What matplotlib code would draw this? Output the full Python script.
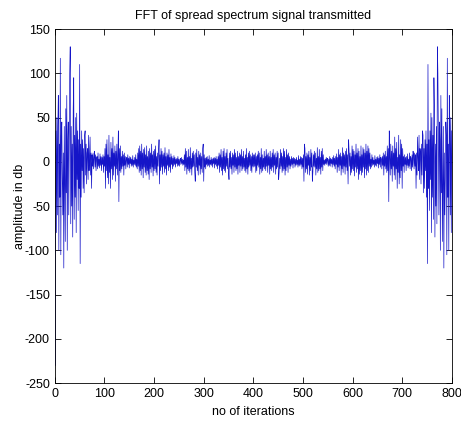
import numpy as np
from matplotlib import pyplot as plt

half = [
    -230, 35, -80, 50, -60, 40, 75, -100, 20, -40, 117, -105, 30, 45, -20, -60, 10, -120, 40, -30,
    -90, 60, -35, 75, -100, 25, 45, -60, 30, 100, 130, -70, 40, -50, 20, -85, 60, 95, -65, 30,
    -40, 50, -80, 55, -20, 35, -55, 25, -30, 110, -115, 20, -40, 35, -10, 25, -30, 15, -35, 30,
    35, -15, 20, -25, 10, 15, -20, 30, -10, 5, 28, -15, 10, -30, 8, -5, 10, -8, 5, 12,
    -6, 8, -10, 4, 6, -8, 10, -5, 3, -7, 9, -4, 6, -10, 5, -3, 8, -12, 6, -5,
    15, -30, 20, -10, 25, -18, 8, -25, 30, -12, 5, -30, 22, -8, 15, -20, 28, -15, 10, -5,
    18, -22, 12, -8, 20, -15, 5, 35, -45, 15, -10, 18, -12, 6, -8, 12, -5, 8, -15, 10,
    -4, 6, -8, 3, 5, -6, 8, -3, 4, -7, 6, -2, 5, -5, 3, -4, 7, -6, 2, -3,
    5, -4, 8, -6, 3, -8, 10, -5, 15, -12, 18, -10, 12, -15, 20, -8, 10, -18, 14, -6,
    16, -12, 8, -15, 18, -10, 6, -14, 12, -20, 15, -8, 10, -12, 20, -6, 8, -16, 12, -10,
    14, -8, 18, -12, 6, -15, 10, -5, 12, 25, -25, 8, -10, 15, -6, 12, -14, 8, -5, 10,
    -12, 16, -8, 6, -15, 10, -4, 8, -10, 14, -6, 5, -12, 9, -3, 6, -8, 4, -5, 7,
    -3, 5, -6, 3, -2, 4, -5, 6, -4, 3, -5, 2, 4, -3, 5, -2, 3, -4, 2, -3,
    8, -10, 15, -6, 12, -14, 5, -8, 14, -10, 6, -12, 16, -8, 4, -15, 10, -6, 12, -5,
    8, -12, -22, 10, -6, 14, -10, 5, -15, 12, -4, 8, -14, 10, -8, 6, -12, 15, 20, -22,
    8, -6, 4, -8, 5, -3, 6, -5, 3, -4, 7, -6, 2, -3, 5, -4, 3, -6, 4, -2,
    5, -7, 4, -3, 6, -5, 3, -8, 6, -4, 10, -12, 8, -6, 14, -10, 5, -15, 12, -8,
    15, -10, 6, -12, 10, -5, 14, -8, 4, -12, -20, 10, -6, 12, -8, 5, -14, 10, -4, 8,
    -12, 14, -6, 10, -10, 5, -8, 12, -14, 6, -4, 10, -12, 8, -5, 14, -10, 6, -8, 12,
    -6, 4, -10, 8, -12, 15, -8, 5, -14, 10, -6, 12, -4, 8, -10, 6, -12, 10, -5, 8,
    -6,
]
xticks = [0, 100, 200, 300, 400, 500, 600, 700, 800]
yticks = [-250, -200, -150, -100, -50, 0, 50, 100, 150]

# real FFT output is symmetric: X[k] = X[N-k]
y = np.array(half + half[-2:0:-1], dtype=float)
x = np.arange(1, len(y) + 1)

plt.rcParams['font.family'] = ['Liberation Sans', 'DejaVu Sans']
plt.rcParams['font.size'] = 9
plt.rcParams['axes.unicode_minus'] = False

fig = plt.figure(figsize=(4.61, 4.21), dpi=100)
ax = fig.add_axes([0.119, 0.090, 0.861, 0.841])
ax.plot(x, y, color='#1515c8', lw=0.5)

ax.set_xlim(0, 800)
ax.set_ylim(-250, 150)
ax.set_xticks(xticks)
ax.set_yticks(yticks)
ax.tick_params(direction='in', length=4, top=True, right=True, width=0.6)
for s in ax.spines.values():
    s.set_linewidth(0.6)

ax.set_title('FFT of spread spectrum signal transmitted', fontsize=9, pad=7)
ax.set_xlabel('no of iterations', labelpad=4)
ax.set_ylabel('amplitude in db', labelpad=-1)

fig.savefig('out.png', dpi=100)
